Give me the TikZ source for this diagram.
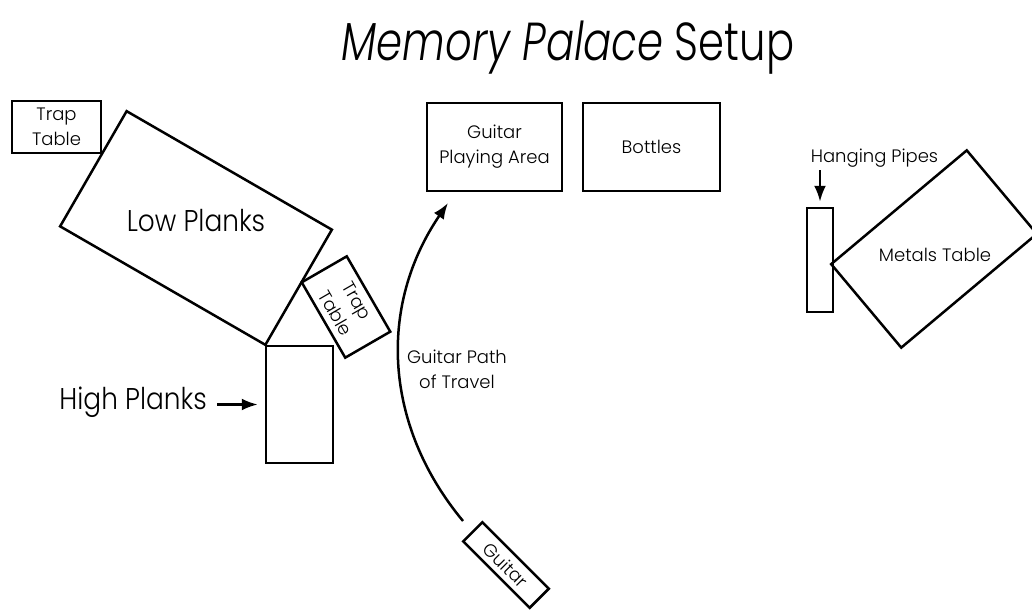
\documentclass[tikz,border=0pt]{standalone}
\usepackage{fontspec}
\setmainfont{Poppins}[UprightFont=* Light,ItalicFont=* Light Italic]
\newfontfamily\titlefont{Poppins}[UprightFont=* Light,ItalicFont=* Light Italic,FakeStretch=0.78]
\newfontfamily\bigfont{Poppins}[UprightFont=* Light,FakeStretch=0.88]
\usetikzlibrary{arrows.meta}

\begin{document}
\begin{tikzpicture}[x=1pt,y=-1pt,
		thing/.style={draw,line width=2.5pt,inner sep=0pt,align=center,font=\fontsize{18}{25}\selectfont},
		label/.style={inner sep=0pt,align=center,font=\fontsize{18}{25}\selectfont},
		biglabel/.style={inner sep=0pt,font=\bigfont\fontsize{30}{34}\selectfont},
		arr/.style={line width=2.5pt,-{Latex[length=16pt,width=12pt]}}]
	\useasboundingbox (0,0) rectangle (1032,610);
	\node[anchor=base,inner sep=0pt,font=\titlefont\fontsize{53.5}{60}\selectfont] (title) at (568,60) {\textit{Memory Palace} Setup};
	% left side
	\node[thing,minimum width=89pt,minimum height=52pt] (traptop) at (56.5,127) {Trap\\Table};
	\node[thing,rotate=-30,minimum width=237pt,minimum height=133pt] (lowplanks) at (196,228) {};
	\node[biglabel] (lowlabel) at (196,221) {Low Planks};
	\node[thing,rotate=-60,minimum width=87pt,minimum height=52pt] (trapmid) at (346,307) {Trap\\Table};
	\node[thing,minimum width=67pt,minimum height=117pt] (highplanks) at (299.5,404.5) {};
	\node[biglabel,anchor=base east] (highlabel) at (207,409) {High Planks};
	\draw[arr] ([xshift=10pt]highlabel.east |- highplanks.west) -- ([xshift=-7pt]highplanks.west);
	% middle
	\node[thing,minimum width=135pt,minimum height=88pt] (playarea) at (494.5,147) {Guitar\\Playing Area};
	\node[thing,minimum width=137pt,minimum height=88pt] (bottles) at (651.5,147) {Bottles};
	\node[thing,rotate=-45,minimum width=94pt,minimum height=27pt] (guitar) at (506,565) {Guitar};
	\node[label] (pathlabel) at (457,369) {Guitar Path\\of Travel};
	\coordinate (pathstart) at (463,521);
	\coordinate (pathend) at (448,203);
	\draw[arr] (pathstart) to[bend left=37] (pathend);
	% right side
	\node[thing,minimum width=26pt,minimum height=104pt] (pipes) at (820,260) {};
	\node[label] (pipeslabel) at (874.5,158) {Hanging Pipes};
	\draw[arr] (pipes.north |- 0,170) -- ([yshift=5pt]pipes.north);
	\node[thing,rotate=40,minimum width=177pt,minimum height=109pt] (metals) at (934,249) {};
	\node[label] (metalslabel) at (935,255) {Metals Table};
\end{tikzpicture}
\end{document}
